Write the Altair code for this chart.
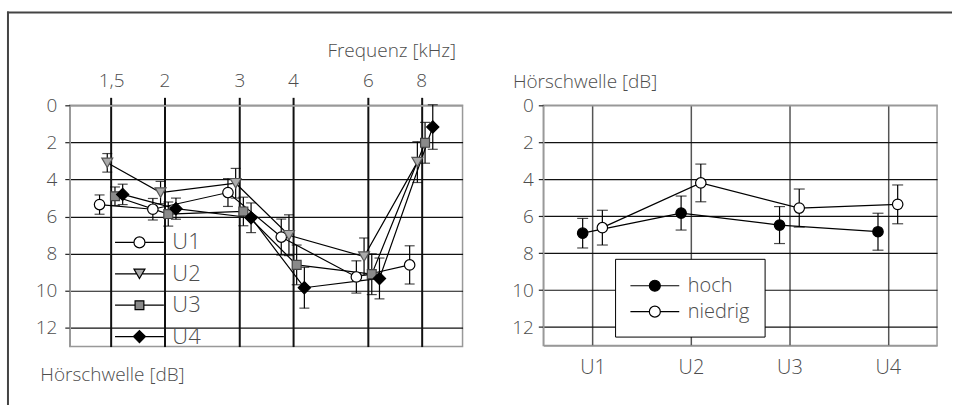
import altair as alt
import pandas as pd

FONT = "Open Sans"
INK = "#4d4d4d"

# ---- left panel: threshold per test frequency, four conditions ----
freqs = [1.5, 2, 3, 4, 6, 8]
freq_labels = ["1,5", "2", "3", "4", "6", "8"]
series = ["U1", "U2", "U3", "U4"]

u1_mean = [5.35, 5.6, 4.7, 7.1, 9.25, 8.6]
u1_err = [0.52, 0.58, 0.75, 0.97, 0.87, 1.03]
u2_mean = [3.1, 4.7, 4.2, 7.0, 8.15, 3.06]
u2_err = [0.5, 0.6, 0.8, 1.1, 1.0, 1.1]
u3_mean = [4.9, 5.86, 5.72, 8.6, 9.1, 2.02]
u3_err = [0.5, 0.65, 0.77, 1.07, 1.1, 1.1]
u4_mean = [4.8, 5.57, 6.06, 9.83, 9.33, 1.17]
u4_err = [0.55, 0.57, 0.8, 1.1, 1.1, 1.2]

series_shapes = ["circle", "triangle-down", "square", "diamond"]
series_fills = ["white", "#ababab", "#8a8a8a", "black"]
series_strokes = ["black", "#555555", "#444444", "black"]
series_sizes = [110, 120, 80, 150]
series_dodge = [-0.09, -0.03, 0.03, 0.09]  # octaves, to keep error bars apart

# ---- right panel: threshold per condition, two groups ----
conditions = ["U1", "U2", "U3", "U4"]
groups = ["hoch", "niedrig"]
hoch_mean = [6.92, 5.83, 6.48, 6.84]
hoch_err = [0.8, 0.92, 1.0, 1.0]
niedrig_mean = [6.62, 4.2, 5.56, 5.36]
niedrig_err = [0.94, 1.02, 1.03, 1.05]
group_fills = ["black", "white"]
group_dodge = [-0.1, 0.1]

db_ticks = [0, 2, 4, 6, 8, 10, 12]

left_rows = []
for s, m, e, d in zip(series, [u1_mean, u2_mean, u3_mean, u4_mean],
                      [u1_err, u2_err, u3_err, u4_err], series_dodge):
    for f, mv, ev in zip(freqs, m, e):
        left_rows.append(dict(series=s, freq=f, pos=f * 2 ** d,
                              mean=mv, lo=mv - ev, hi=mv + ev))
left_df = pd.DataFrame(left_rows)

right_rows = []
for g, m, e, d in zip(groups, [hoch_mean, niedrig_mean],
                      [hoch_err, niedrig_err], group_dodge):
    for i, (c, mv, ev) in enumerate(zip(conditions, m, e)):
        right_rows.append(dict(gruppe=g, cond=c, pos=i + 1 + d,
                               mean=mv, lo=mv - ev, hi=mv + ev))
right_df = pd.DataFrame(right_rows)

# legend glyphs: a short line with the marker in the middle (unit coords)
L = 2.227


def glyph(marker, gap):
    return f"M{-L},0H{-gap}M{gap},0H{L}" + marker


GLYPHS = {
    "circle": glyph("M-0.5,0A0.5,0.5 0 1,0 0.5,0A0.5,0.5 0 1,0 -0.5,0Z", 0.5),
    "triangle-down": glyph("M0,0.433L0.5,-0.433L-0.5,-0.433Z", 0.25),
    "square": glyph("M-0.4,-0.4H0.4V0.4H-0.4Z", 0.4),
    "diamond": glyph("M0,-0.55L0.55,0L0,0.55L-0.55,0Z", 0.55),
}

SYM = 484
legend_common = dict(
    title=None, orient="none", symbolSize=SYM,
    symbolOffset=12.9, labelOffset=21, labelFont=FONT,
    labelColor=INK, labelFontWeight=300,
    symbolStrokeWidth=1.2, symbolOpacity=1,
)

y_scale = alt.Scale(domain=[0, 13], reverse=True, nice=False, zero=False)
grid_col = {"condition": {"test": "datum.value === 0", "value": "#999999"},
            "value": "#111111"}


def make_y(field, pad, tx, ty):
    return alt.Y(field, type="quantitative", scale=y_scale, axis=alt.Axis(
        values=db_ticks, tickSize=5, tickColor="#222", tickWidth=1.2,
        domainColor="#999", domainWidth=1.5, labelPadding=pad,
        labelFontSize=19, gridColor=grid_col, gridWidth=1.2,
        title="Hörschwelle [dB]", titleAngle=0, titleX=tx, titleY=ty,
        titleAlign="left", titleBaseline="middle", titleFontSize=19))


def left_y(field):
    return make_y(field, 8, -30, 270)


def right_y(field):
    return make_y(field, 5, -31, -24)


freq_expr = "datum.label"
for f, lab in reversed(list(zip(freqs, freq_labels))):
    freq_expr = f"abs(datum.value - {f}) < 0.001 ? '{lab}' : ({freq_expr})"

left_x = alt.X("pos:Q", scale=alt.Scale(type="log", domain=[1.2, 10], nice=False),
               axis=alt.Axis(orient="top", values=freqs, labelExpr=freq_expr,
                             tickSize=8, tickWidth=2, tickColor="#111",
                             gridColor="#111", gridWidth=2, domainColor="#999",
                             domainWidth=1.5, labelPadding=7, labelFontSize=19,
                             labelAngle=0, title="Frequenz [kHz]", titleX=387,
                             titleY=-55, titleAlign="right",
                             titleBaseline="middle", titleFontSize=19))

cond_expr = "datum.label"
for i, c in reversed(list(enumerate(conditions))):
    cond_expr = f"datum.value == {i + 1} ? '{c}' : ({cond_expr})"

right_x = alt.X("pos:Q", scale=alt.Scale(domain=[0.5, 4.5], nice=False, zero=False),
                axis=alt.Axis(values=[1, 2, 3, 4], labelExpr=cond_expr, ticks=False,
                              gridColor="#555", gridWidth=1.5, domainColor="#999",
                              domainWidth=1.5, labelPadding=12, labelFontSize=20,
                              title=None))

# outer frame around the figure
one = alt.Data(values=[{"k": 0}])
frame_top = alt.Chart(one).mark_rule(color="#444", strokeWidth=2, strokeCap="square").encode(
    x=alt.value(-62), x2=alt.value(884), y=alt.value(-93))
frame_left = alt.Chart(one).mark_rule(color="#444", strokeWidth=2, strokeCap="square").encode(
    x=alt.value(-62), y=alt.value(-93), y2=alt.value(301))

lb = alt.Chart(left_df)
l_lines = lb.mark_line(color="black", strokeWidth=1.2).encode(
    x=left_x, y=left_y("mean"), detail="series:N", order="freq:Q")
l_bars = lb.mark_rule(color="black", strokeWidth=1.2).encode(
    x=left_x, y=left_y("lo"), y2="hi:Q")
l_caps = lb.transform_fold(["lo", "hi"], as_=["end", "yv"]).mark_tick(
    orient="horizontal", size=10, thickness=1.2, color="black").encode(
    x=left_x, y=left_y("yv"))

# markers, one layer per condition
l_points = [
    lb.transform_filter(alt.datum.series == s).mark_point(
        filled=True, opacity=1, strokeWidth=1.2, shape=shp, fill=fc,
        stroke=sc, size=sz).encode(x=left_x, y=left_y("mean"))
    for s, shp, fc, sc, sz in zip(series, series_shapes, series_fills,
                                  series_strokes, series_sizes)
]

# key for the four conditions (layer without marks of its own)
l_key = lb.transform_filter("false").mark_point(
    filled=True, opacity=1, size=SYM, strokeWidth=1.2).encode(
    x=left_x, y=left_y("mean"),
    shape=alt.Shape("series:N", scale=alt.Scale(
        domain=series, range=[GLYPHS[s] for s in series_shapes]),
        legend=alt.Legend(legendX=45, legendY=125.5, rowPadding=8.5, padding=0,
                          labelFontSize=22, **legend_common)),
    fill=alt.Fill("series:N", scale=alt.Scale(domain=series, range=series_fills)),
    stroke=alt.Stroke("series:N", scale=alt.Scale(
        domain=series, range=["black"] * len(series))),
)

left = alt.layer(frame_top, frame_left, l_lines, l_bars, l_caps, *l_points, l_key).properties(
    width=394, height=242)

rb = alt.Chart(right_df)
r_lines = rb.mark_line(color="black", strokeWidth=1.2).encode(
    x=right_x, y=right_y("mean"), detail="gruppe:N", order="pos:Q")
r_bars = rb.mark_rule(color="black", strokeWidth=1.2).encode(
    x=right_x, y=right_y("lo"), y2="hi:Q")
r_caps = rb.transform_fold(["lo", "hi"], as_=["end", "yv"]).mark_tick(
    orient="horizontal", size=11, thickness=1.2, color="black").encode(
    x=right_x, y=right_y("yv"))

r_points = [
    rb.transform_filter(alt.datum.gruppe == g).mark_point(
        filled=True, opacity=1, strokeWidth=1.2, stroke="black", shape="circle",
        size=110, fill=fc).encode(x=right_x, y=right_y("mean"))
    for g, fc in zip(groups, group_fills)
]

r_key = rb.transform_filter("false").mark_point(
    filled=True, opacity=1, size=SYM, strokeWidth=1.2).encode(
    x=right_x, y=right_y("mean"),
    shape=alt.Shape("gruppe:N", scale=alt.Scale(
        domain=groups, range=[GLYPHS["circle"], GLYPHS["circle"]]),
        legend=alt.Legend(legendX=72, legendY=154, rowPadding=4, padding=15,
                          labelFontSize=20, fillColor="white", strokeColor="black",
                          **legend_common)),
    fill=alt.Fill("gruppe:N", scale=alt.Scale(domain=groups, range=group_fills)),
    stroke=alt.Stroke("gruppe:N", scale=alt.Scale(domain=groups, range=["black", "black"])),
)

right = alt.layer(r_lines, r_bars, r_caps, *r_points, r_key).properties(
    width=395, height=241)

chart = alt.hconcat(left, right, spacing=81, bounds="flush").resolve_scale(
    x="independent", y="independent", shape="independent", fill="independent",
    stroke="independent"
).properties(
    padding={"left": 5, "top": 9, "right": 0, "bottom": 0},
    background="white",
).configure(font=FONT).configure_view(
    stroke="#999", strokeWidth=1.5
).configure_axis(
    labelFont=FONT, titleFont=FONT, labelColor=INK, titleColor=INK,
    labelFontWeight=300, titleFontWeight=300
)

chart.save("out.html", embed_options={"renderer": "svg", "actions": False})
